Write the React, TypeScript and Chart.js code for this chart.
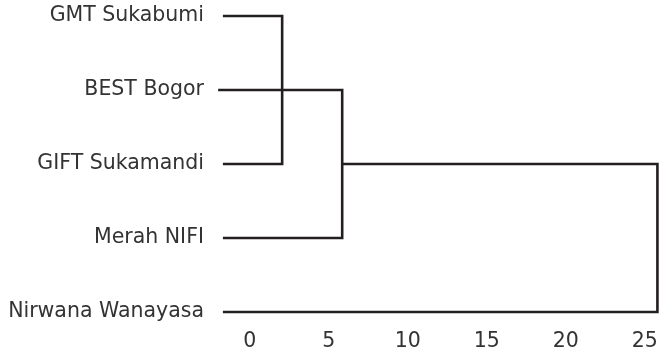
import React, { useEffect, useRef } from "react";
import { Chart, registerables } from "chart.js";

Chart.register(...registerables);

// Leaves (top to bottom)
const leafLabels = ["GMT Sukabumi", "BEST Bogor", "GIFT Sukamandi", "Merah NIFI", "Nirwana Wanayasa"];
// where each leaf line starts (rescaled distance)
const leafStarts = [-1.7, -2.0, -1.7, -1.7, -1.7];
// merge steps: rows joined and distance of the join
const mergeTopRows = [0, 1, 2];
const mergeBottomRows = [2, 3, 4];
const mergeDistances = [2.05, 5.85, 25.8];
// where each merge's incoming branch starts (previous merge distance)
const mergeEntryFrom = [null, null, 5.85];
// x axis ticks
const xTickValues = [0, 5, 10, 15, 20, 25];

const LINE = "#231f20";
const TEXT = "#333333";
const FONT = { family: "'DejaVu Sans', sans-serif", size: 20.5 };

function buildDatasets() {
  const ds: any[] = [];
  for (let i = 0; i < mergeDistances.length; i++) {
    const top = mergeTopRows[i];
    const bot = mergeBottomRows[i];
    const d = mergeDistances[i];
    const from = mergeEntryFrom[i];
    const topStart = from === null ? leafStarts[top] : from;
    const pts = [
      { x: topStart, y: top },
      { x: d, y: top },
      { x: d, y: bot },
      { x: leafStarts[bot], y: bot },
    ];
    ds.push({
      data: pts,
      showLine: true,
      borderColor: LINE,
      borderWidth: 2.6,
      pointRadius: 0,
      pointHoverRadius: 0,
      tension: 0,
      fill: false,
      borderJoinStyle: "miter",
      borderCapStyle: "butt",
      clip: 6,
    });
  }
  return ds;
}

export default function App() {
  const ref = useRef<HTMLCanvasElement>(null);
  useEffect(() => {
    if (!ref.current) return;
    const chart = new Chart(ref.current, {
      type: "scatter",
      data: { datasets: buildDatasets() },
      options: {
        animation: false,
        responsive: false,
        maintainAspectRatio: false,
        layout: { padding: { left: 0, right: 0, top: 0, bottom: 0 } },
        plugins: { legend: { display: false }, tooltip: { enabled: false } },
        scales: {
          x: {
            type: "linear",
            min: -2.2,
            max: 25.9,
            grid: { display: false, drawTicks: false },
            border: { display: false },
            afterBuildTicks: (s: any) => {
              s.ticks = xTickValues.map((v) => ({ value: v }));
            },
            afterFit: (s: any) => {
              s.height = 22;
              s.paddingLeft = 0;
              s.paddingRight = 0;
              s.paddingTop = 0;
              s.paddingBottom = 0;
            },
            ticks: {
              color: TEXT,
              font: FONT,
              padding: 2,
              maxRotation: 0,
              autoSkip: false,
              callback: (v: any) => String(v),
            },
          },
          y: {
            type: "linear",
            reverse: true,
            min: -0.216,
            max: 4.203,
            grid: { display: false, drawTicks: false },
            border: { display: false },
            afterBuildTicks: (s: any) => {
              s.ticks = leafLabels.map((_, i) => ({ value: i }));
            },
            afterFit: (s: any) => {
              s.width = 215;
              s.paddingLeft = 0;
              s.paddingRight = 0;
              s.paddingTop = 0;
              s.paddingBottom = 0;
            },
            ticks: {
              color: TEXT,
              font: FONT,
              padding: 11,
              autoSkip: false,
              callback: (v: any) => leafLabels[v as number] ?? "",
            },
          },
        },
      },
    });
    return () => chart.destroy();
  }, []);
  return (
    <div style={{ position: "fixed", left: 0, top: 0, width: 659, height: 349, background: "#fff" }}>
      <canvas ref={ref} width={659} height={349} style={{ width: 659, height: 349, display: "block" }} />
    </div>
  );
}
